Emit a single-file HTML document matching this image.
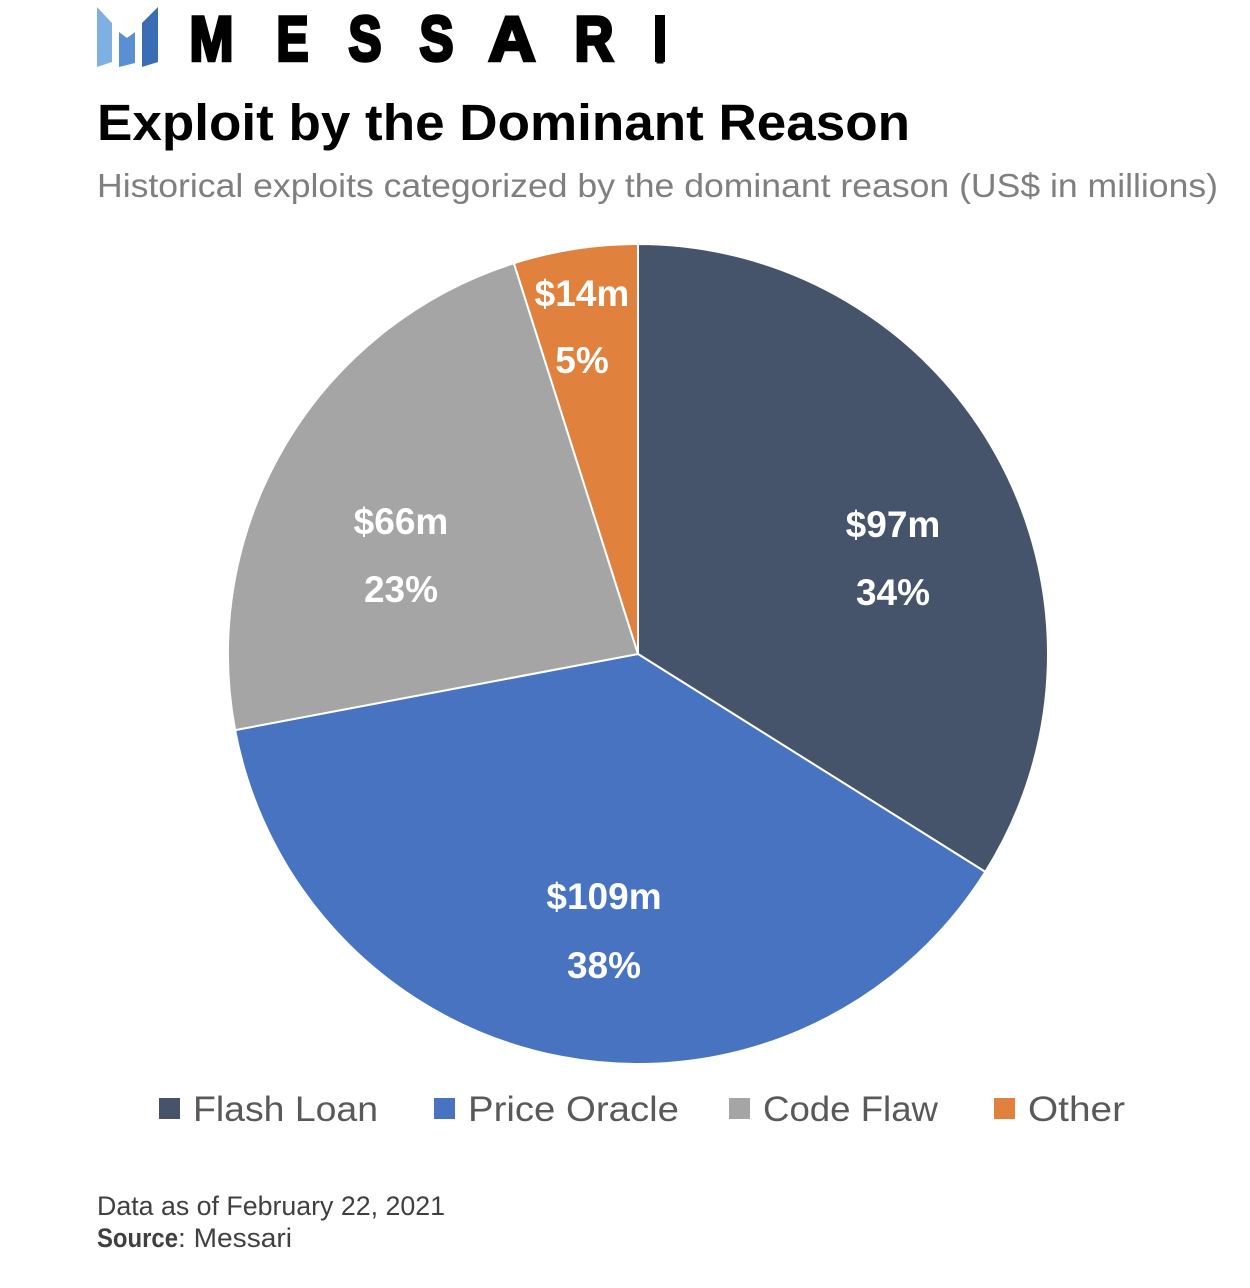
<!DOCTYPE html>
<html>
<head>
<meta charset="utf-8">
<style>
  html, body { margin:0; padding:0; background:#ffffff; }
  svg { display:block; }
  text { font-family: "Liberation Sans", "DejaVu Sans", sans-serif; }
</style>
</head>
<body>
<svg width="1250" height="1288" viewBox="0 0 1250 1288" xmlns="http://www.w3.org/2000/svg">
  <rect x="0" y="0" width="1250" height="1288" fill="#ffffff"/>

  <!-- Logo mark -->
  <polygon points="97,7 112,23 112,62 97,67" fill="#7eb1e2"/>
  <polygon points="119,32 127,38 135,32 135,63 119,67" fill="#5b8fd3"/>
  <polygon points="142,23 158,7 158,62 142,67" fill="#3b6db5"/>

  <!-- MESSARI wordmark -->
  <g font-weight="bold" font-size="63" fill="#000000" stroke="#000000" stroke-width="3.5" stroke-linejoin="miter">
    <text x="189.5" y="60.5" textLength="44" lengthAdjust="spacingAndGlyphs">M</text>
    <text x="276.5" y="60.5" textLength="32" lengthAdjust="spacingAndGlyphs">E</text>
    <text x="348.5" y="60.5" textLength="33" lengthAdjust="spacingAndGlyphs">S</text>
    <text x="419.5" y="60.5" textLength="34" lengthAdjust="spacingAndGlyphs">S</text>
    <text x="488.5" y="60.5" textLength="47" lengthAdjust="spacingAndGlyphs">A</text>
    <text x="574.5" y="60.5" textLength="39" lengthAdjust="spacingAndGlyphs">R</text>
  </g>
  <text x="655" y="62" font-weight="bold" font-size="63" fill="#000000" stroke="#000000" stroke-width="3" textLength="10" lengthAdjust="spacingAndGlyphs">I</text>
  <rect x="655" y="15" width="10" height="47" fill="#000000"/>

  <!-- Title & subtitle -->
  <text x="97" y="140" font-size="51" font-weight="bold" fill="#000000" textLength="813" lengthAdjust="spacingAndGlyphs">Exploit by the Dominant Reason</text>
  <text x="97" y="197" font-size="33" fill="#7f7f7f" textLength="1121" lengthAdjust="spacingAndGlyphs">Historical exploits categorized by the dominant reason (US$ in millions)</text>

  <!-- Pie -->
  <g stroke="#ffffff" stroke-width="2" stroke-linejoin="round">
    <path d="M638,654 L638,244 A410,410 0 0 1 985.3,871.9 Z" fill="#45546a"/>
    <path d="M638,654 L985.3,871.9 A410,410 0 0 1 235.1,730.1 Z" fill="#4873c0"/>
    <path d="M638,654 L235.1,730.1 A410,410 0 0 1 513.9,263.2 Z" fill="#a5a5a5"/>
    <path d="M638,654 L513.9,263.2 A410,410 0 0 1 638,244 Z" fill="#e0813e"/>
  </g>

  <!-- Pie labels -->
  <g font-size="37" font-weight="bold" fill="#ffffff" text-anchor="middle">
    <text x="893" y="537">$97m</text>
    <text x="893" y="605">34%</text>
    <text x="604" y="909">$109m</text>
    <text x="604" y="978">38%</text>
    <text x="401" y="534">$66m</text>
    <text x="401" y="602">23%</text>
    <text x="582" y="306">$14m</text>
    <text x="582" y="373">5%</text>
  </g>

  <!-- Legend -->
  <rect x="159" y="1098" width="21" height="21" fill="#45546a"/>
  <text x="193" y="1121" font-size="35" fill="#595959" textLength="185" lengthAdjust="spacingAndGlyphs">Flash Loan</text>
  <rect x="434" y="1098" width="21" height="21" fill="#4873c0"/>
  <text x="468" y="1121" font-size="35" fill="#595959" textLength="211" lengthAdjust="spacingAndGlyphs">Price Oracle</text>
  <rect x="729" y="1098" width="21" height="21" fill="#a5a5a5"/>
  <text x="763" y="1121" font-size="35" fill="#595959" textLength="175" lengthAdjust="spacingAndGlyphs">Code Flaw</text>
  <rect x="994" y="1098" width="21" height="21" fill="#e0813e"/>
  <text x="1028" y="1121" font-size="35" fill="#595959" textLength="97" lengthAdjust="spacingAndGlyphs">Other</text>

  <!-- Footer -->
  <text x="97" y="1215" font-size="27" fill="#404040" textLength="348" lengthAdjust="spacingAndGlyphs">Data as of February 22, 2021</text>
  <text x="97" y="1247" font-size="27" font-weight="bold" fill="#404040" textLength="81" lengthAdjust="spacingAndGlyphs">Source</text>
  <text x="178" y="1247" font-size="27" fill="#404040" textLength="114" lengthAdjust="spacingAndGlyphs">: Messari</text>
</svg>
</body>
</html>
